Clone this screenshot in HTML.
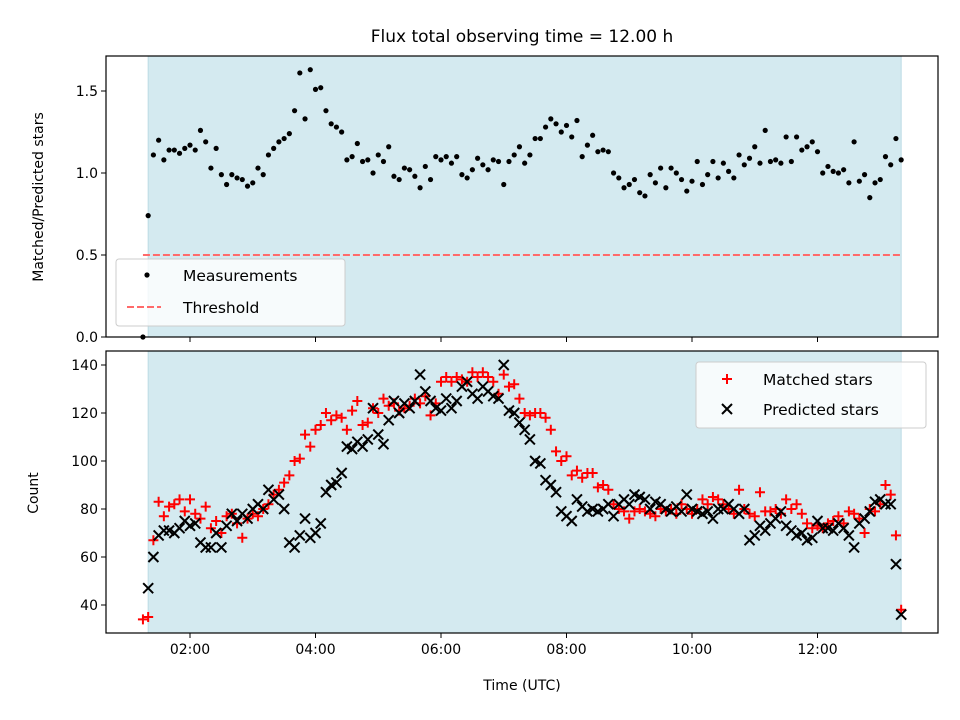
<!DOCTYPE html>
<html><head><meta charset="utf-8"><style>
body{margin:0;background:#fff;}
svg{display:block;font-family:"DejaVu Sans","Liberation Sans",sans-serif;}
</style></head><body>
<svg id="chart" width="960" height="720" viewBox="0 0 960 720">
<text x="522" y="42" text-anchor="middle" font-size="17">Flux total observing time = 12.00 h</text>
<text transform="translate(43,197) rotate(-90)" text-anchor="middle" font-size="14">Matched/Predicted stars</text>
<text transform="translate(38,493) rotate(-90)" text-anchor="middle" font-size="14">Count</text>
<text x="522" y="690" text-anchor="middle" font-size="14">Time (UTC)</text>
<g id="g"></g>
</svg>
<script>
const xTickLabels=["02:00","04:00","06:00","08:00","10:00","12:00"];
const xTickHours=[2,4,6,8,10,12];
const topTicks=[0,0.5,1.0,1.5];
const botTicks=[40,60,80,100,120,140];
const threshold=0.5;
const ratio=[0,0.74,1.11,1.20,1.08,1.14,1.14,1.12,1.15,1.17,1.14,1.26,1.19,1.03,1.15,0.99,0.93,0.99,0.97,0.96,0.92,0.94,1.03,0.99,1.11,1.15,1.19,1.21,1.24,1.38,1.61,1.33,1.63,1.51,1.52,1.38,1.30,1.28,1.25,1.08,1.10,1.18,1.07,1.08,1.00,1.11,1.07,1.16,0.98,0.96,1.03,1.02,0.98,0.91,1.04,0.96,1.10,1.08,1.10,1.06,1.10,0.99,0.97,1.02,1.09,1.05,1.02,1.08,1.07,0.93,1.07,1.11,1.16,
1.06,1.11,1.21,1.21,1.28,1.33,1.30,1.25,1.29,1.22,1.32,1.10,1.17,1.23,1.13,1.14,1.13,1.00,0.97,0.91,0.93,0.96,0.88,0.86,0.99,0.94,1.03,0.91,1.03,1.00,0.96,0.89,0.95,1.07,0.93,0.99,1.07,0.97,1.06,1.01,0.97,1.11,1.05,1.09,1.16,1.06,1.26,1.07,1.08,1.06,1.22,1.07,1.22,1.14,1.16,1.19,1.13,1.00,1.04,1.01,1.00,1.02,0.94,1.19,0.95,0.99,0.85,0.94,0.96,1.10,1.05,1.21,1.08];
const matched=[34,35,67,83,77,81,82,84,79,84,78,76,81,72,75,70,77,78,74,68,76,78,77,80,82,86,88,91,94,100,101,111,106,113,115,120,117,119,118,113,121,125,115,116,122,120,126,123,124,121,122,123,126,124,127,119,124,133,135,133,135,134,133,137,135,137,135,133,128,136,131,132,126,120,119,120,120,118,113,104,100,102,94,96,93,95,95,89,90,88,82,80,79,76,79,80,79,78,77,80,79,80,78,82,80,78,80,84,82,85,84,82,80,78,88,80,78,77,87,79,79,80,78,84,80,82,78,74,72,73,72,74,75,77,74,79,78,76,70,80,79,82,90,86,69,38];
const predicted=[null,47,60,69,71,71,70,72,75,73,74,66,64,64,70,64,73,78,75,78,76,80,82,80,88,84,86,80,66,64,69,76,68,70,74,87,90,91,95,106,105,108,106,109,122,111,107,117,125,120,124,122,125,136,129,125,122,121,126,122,125,131,133,128,126,131,129,127,126,140,121,120,116,113,109,100,99,92,90,87,79,77,75,84,81,79,80,79,80,82,77,82,84,82,86,85,84,80,83,82,80,79,81,79,86,80,79,78,79,76,80,80,82,80,78,80,67,69,73,71,74,76,79,73,71,69,70,67,68,75,72,72,71,74,72,69,64,74,76,79,83,84,82,82,57,36];
const startHour=1.25, stepHour=5/60;
const NS="http://www.w3.org/2000/svg";
const g=document.getElementById('g');
function el(t,a,p){const e=document.createElementNS(NS,t);for(const k in a)e.setAttribute(k,a[k]);(p||g).appendChild(e);return e;}
const L=106,R=938,T1=56,B1=337,T2=351,B2=633;
const xs=h=>190+(h-2)*62.75;
const y1=v=>337-v*164;
const y2=v=>365+(140-v)*2.4;
let s=el('rect',{x:xs(4/3),y:T1,width:xs(13+1/3)-xs(4/3),height:B1-T1,fill:'#d4eaf0',stroke:'#bcdbe5'});


s=el('rect',{x:xs(4/3),y:T2,width:xs(13+1/3)-xs(4/3),height:B2-T2,fill:'#d4eaf0',stroke:'#bcdbe5'});


let th=el('line',{x1:xs(1.25),x2:xs(13.333),y1:y1(threshold),y2:y1(threshold),stroke:'#ff6a6a','stroke-width':2,'stroke-dasharray':'7,3'});


ratio.forEach((v,i)=>{const c=el('circle',{cx:xs(startHour+i*stepHour),cy:y1(v),r:2.6,fill:'#000'});

});
matched.forEach((v,i)=>{if(v==null)return;const x=xs(startHour+i*stepHour),y=y2(v);
const p=el('path',{d:`M${x-5},${y}H${x+5}M${x},${y-5}V${y+5}`,stroke:'#f00','stroke-width':2,fill:'none'});

});
predicted.forEach((v,i)=>{if(v==null)return;const x=xs(startHour+i*stepHour),y=y2(v);
const p=el('path',{d:`M${x-5},${y-5}L${x+5},${y+5}M${x-5},${y+5}L${x+5},${y-5}`,stroke:'#000','stroke-width':2,fill:'none'});

});
let f=el('rect',{x:L,y:T1,width:R-L,height:B1-T1,fill:'none',stroke:'#000','stroke-width':1.2});


f=el('rect',{x:L,y:T2,width:R-L,height:B2-T2,fill:'none',stroke:'#000','stroke-width':1.2});


xTickHours.forEach((h,i)=>{const x=xs(h);
let t=el('line',{x1:x,x2:x,y1:B1,y2:B1+5,stroke:'#000'});


t=el('line',{x1:x,x2:x,y1:B2,y2:B2+5,stroke:'#000'});


const tx=el('text',{x:x,y:B2+21,'text-anchor':'middle','font-size':14});tx.textContent=xTickLabels[i];

});
topTicks.forEach(v=>{const y=y1(v);
const t=el('line',{x1:L-5,x2:L,y1:y,y2:y,stroke:'#000'});


const tx=el('text',{x:L-8,y:y+5,'text-anchor':'end','font-size':14});tx.textContent=v.toFixed(1);

});
botTicks.forEach(v=>{const y=y2(v);
const t=el('line',{x1:L-5,x2:L,y1:y,y2:y,stroke:'#000'});


const tx=el('text',{x:L-8,y:y+5,'text-anchor':'end','font-size':14});tx.textContent=v;

});
let lg=el('rect',{x:116,y:259,width:229,height:67,rx:3,fill:'#fff','fill-opacity':0.8,stroke:'#ccc'});


let m=el('circle',{cx:147,cy:275,r:2.6,fill:'#000'});


let tt=el('text',{x:183,y:281,'font-size':15.5});tt.textContent='Measurements';


m=el('line',{x1:127,x2:161,y1:307,y2:307,stroke:'#ff6a6a','stroke-width':2,'stroke-dasharray':'7,3'});


tt=el('text',{x:183,y:313,'font-size':15.5});tt.textContent='Threshold';


lg=el('rect',{x:696,y:362,width:230,height:66,rx:3,fill:'#fff','fill-opacity':0.8,stroke:'#ccc'});


m=el('path',{d:'M722,379H732M727,374V384',stroke:'#f00','stroke-width':2});


tt=el('text',{x:763,y:385,'font-size':15.5});tt.textContent='Matched stars';


m=el('path',{d:'M722,404L732,414M722,414L732,404',stroke:'#000','stroke-width':2});


tt=el('text',{x:763,y:415,'font-size':15.5});tt.textContent='Predicted stars';


</script>
</body></html>
